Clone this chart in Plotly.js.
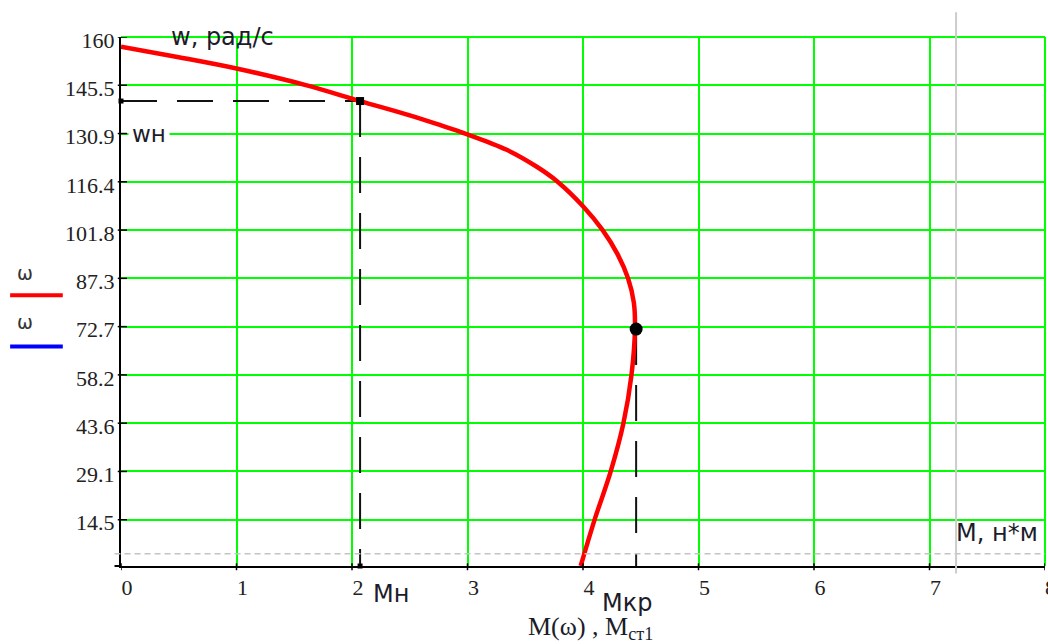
<!DOCTYPE html>
<html>
<head>
<meta charset="utf-8">
<script src="https://cdn.plot.ly/plotly-3.0.1.min.js"></script>
<style>html,body{margin:0;padding:0;background:#fff;}#chart{width:1048px;height:644px;}</style>
</head>
<body>
<div id="chart"></div>
<script>
// Torque M (N*m) vs angular speed w (rad/s)
var torqueM = [0, 0.5, 1.0, 1.6, 2.07, 2.5, 2.76, 2.98, 3.34, 3.6, 3.78, 4.0, 4.17, 4.3, 4.39, 4.44, 4.45, 4.42, 4.35, 4.24, 4.10, 3.98];
var speedW  = [157.1, 153.9, 150.5, 145.5, 140.7, 136.4, 133.5, 130.9, 126.0, 120.9, 116.4, 109.0, 101.8, 94.5, 87.3, 80.0, 72.5, 58.2, 43.6, 29.1, 14.5, 0.6];

// Nominal and critical points
var Mn = 2.07, wn = 140.7;
var Mkr = 4.46, wkr = 72.0;
// Marker lines
var grayVertM = 7.23;
var grayHorizW = 4.3;

// Axes
var xTickVals = [0, 1, 2, 3, 4, 5, 6, 7, 8];
var xTickText = ['0', '1', '2', '3', '4', '5', '6', '7', '8'];
var yTickVals = [14.545, 29.091, 43.636, 58.182, 72.727, 87.273, 101.818, 116.364, 130.909, 145.455, 160];
var yTickText = ['14.5', '29.1', '43.6', '58.2', '72.7', '87.3', '101.8', '116.4', '130.9', '145.5', '160'];
var xRange = [0, 8];
var yRange = [0.6, 160];

var dashPat = '36px,20px';
var traces = [
  {x: [0, Mn], y: [wn, wn], mode: 'lines', line: {color: '#111', width: 2, dash: dashPat}, hoverinfo: 'skip'},
  {x: [Mn, Mn], y: [wn, yRange[0]], mode: 'lines', line: {color: '#111', width: 2, dash: dashPat}, hoverinfo: 'skip'},
  {x: [Mkr, Mkr], y: [wkr, yRange[0]], mode: 'lines', line: {color: '#111', width: 2, dash: dashPat}, hoverinfo: 'skip'},
  {x: torqueM, y: speedW, mode: 'lines', line: {color: '#FF0000', width: 4.5, shape: 'spline', smoothing: 1.0}, hoverinfo: 'skip'},
  {x: [Mn], y: [wn], mode: 'markers', marker: {symbol: 'square', size: 8, color: '#000'}, hoverinfo: 'skip'},
  {x: [0, Mn], y: [wn, yRange[0]], mode: 'markers', marker: {symbol: 'square', size: 5, color: '#000'}, cliponaxis: false, hoverinfo: 'skip'},
  {x: [Mkr], y: [wkr], mode: 'markers', marker: {symbol: 'circle', size: 13, color: '#000'}, hoverinfo: 'skip'}
];

var shapes = [];
// cross ticks on y axis
yTickVals.forEach(function (v) {
  shapes.push({type: 'line', xref: 'paper', yref: 'y', x0: -0.0035, x1: 0.0065, y0: v, y1: v, line: {color: '#000', width: 1.5}, layer: 'above'});
});
// cross ticks on x axis
xTickVals.forEach(function (v) {
  shapes.push({type: 'line', xref: 'x', yref: 'paper', x0: v, x1: v, y0: 0.005, y1: -0.008, line: {color: '#000', width: 1.5}, layer: 'above'});
});
// x axis extension to the left
shapes.push({type: 'line', xref: 'paper', yref: 'paper', x0: -0.007, x1: 0, y0: 0, y1: 0, line: {color: '#000', width: 2}});
// gray dashed horizontal marker
shapes.push({type: 'line', xref: 'paper', yref: 'y', x0: -0.007, x1: 1, y0: grayHorizW, y1: grayHorizW, line: {color: '#c4c4c4', width: 1.5, dash: '6px,4px'}, layer: 'above'});
// gray vertical marker
shapes.push({type: 'line', xref: 'x', yref: 'paper', x0: grayVertM, x1: grayVertM, y0: -0.014, y1: 1.047, line: {color: '#cccccc', width: 2}, layer: 'above'});
// top and right green borders
shapes.push({type: 'line', xref: 'paper', yref: 'paper', x0: 0, x1: 1, y0: 1, y1: 1, line: {color: '#00FF00', width: 2}, layer: 'below'});
shapes.push({type: 'line', xref: 'paper', yref: 'paper', x0: 1, x1: 1, y0: 0, y1: 1, line: {color: '#00FF00', width: 2}, layer: 'below'});
// legend lines
shapes.push({type: 'line', xref: 'paper', yref: 'paper', x0: -0.12, x1: -0.063, y0: 0.512, y1: 0.512, line: {color: '#FF0000', width: 4}});
shapes.push({type: 'line', xref: 'paper', yref: 'paper', x0: -0.12, x1: -0.063, y0: 0.415, y1: 0.415, line: {color: '#0000FF', width: 4}});

var sans = 'DejaVu Sans';
var txtColor = '#1c1c2a';
var annotations = [
  {text: 'w, рад/с', xref: 'paper', yref: 'paper', x: 0.052, y: 1.0, xanchor: 'left', yanchor: 'middle', showarrow: false, font: {family: sans, size: 24, color: txtColor}},
  {text: 'wн', xref: 'paper', yref: 'paper', x: 0.008, y: 0.816, xanchor: 'left', yanchor: 'middle', showarrow: false, bgcolor: '#ffffff', borderpad: 3, font: {family: sans, size: 23, color: txtColor}},
  {text: 'Мн', xref: 'paper', yref: 'paper', x: 0.271, y: -0.052, xanchor: 'left', yanchor: 'middle', showarrow: false, font: {family: sans, size: 24, color: txtColor}},
  {text: 'Мкр', xref: 'paper', yref: 'paper', x: 0.548, y: -0.07, xanchor: 'center', yanchor: 'middle', showarrow: false, font: {family: sans, size: 24, color: txtColor}},
  {text: 'М, н*м', xref: 'paper', yref: 'paper', x: 0.995, y: 0.062, xanchor: 'right', yanchor: 'middle', showarrow: false, font: {family: sans, size: 24, color: txtColor}},
  {text: 'M(ω) , M<sub>ст1</sub>', xref: 'paper', yref: 'paper', x: 0.508, y: -0.118, xanchor: 'center', yanchor: 'middle', showarrow: false, font: {family: 'Liberation Serif', size: 26, color: txtColor}},
  {text: 'ω', xref: 'paper', yref: 'paper', x: -0.104, y: 0.553, xanchor: 'center', yanchor: 'middle', showarrow: false, font: {family: sans, size: 19, color: '#333'}},
  {text: 'ω', xref: 'paper', yref: 'paper', x: -0.104, y: 0.462, xanchor: 'center', yanchor: 'middle', showarrow: false, font: {family: sans, size: 19, color: '#333'}},
  {text: '8', xref: 'paper', yref: 'paper', x: 0.998, y: -0.041, xanchor: 'left', yanchor: 'middle', showarrow: false, font: {family: 'Liberation Serif', size: 22, color: '#222'}}
];

var layout = {
  width: 1048, height: 644,
  margin: {l: 121, r: 3, t: 37, b: 78, pad: 0},
  paper_bgcolor: '#ffffff', plot_bgcolor: '#ffffff',
  showlegend: false,
  xaxis: {
    range: xRange, tickvals: xTickVals, ticktext: xTickText,
    showgrid: true, gridcolor: '#00FF00', gridwidth: 2,
    zeroline: false, showline: true, linecolor: '#000', linewidth: 2,
    ticks: '', ticklabelshift: 6, ticklabelstandoff: 1,
    tickfont: {family: 'Liberation Serif', size: 22, color: '#222'}
  },
  yaxis: {
    range: yRange, tickvals: yTickVals, ticktext: yTickText,
    showgrid: true, gridcolor: '#00FF00', gridwidth: 2,
    zeroline: false, showline: true, linecolor: '#000', linewidth: 2,
    ticks: '', ticklabelshift: 3, ticklabelstandoff: 0,
    tickfont: {family: 'Liberation Serif', size: 22, color: '#222'}
  },
  shapes: shapes,
  annotations: annotations
};

Plotly.newPlot('chart', traces, layout, {staticPlot: true, displayModeBar: false});
</script>
</body>
</html>
